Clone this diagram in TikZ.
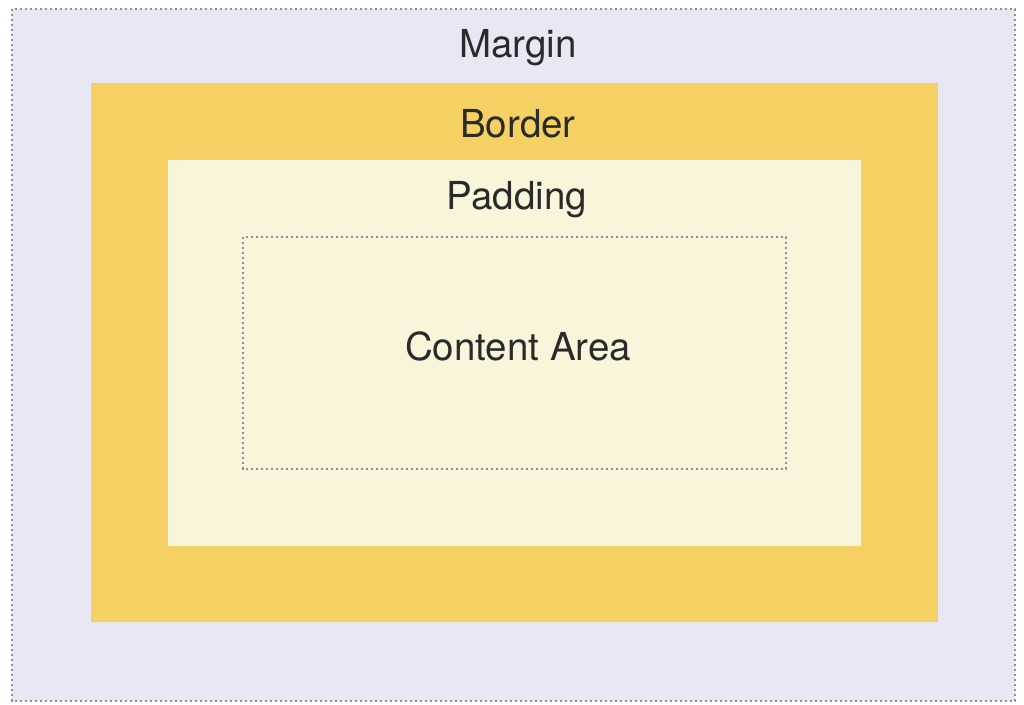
\documentclass[tikz,border=0pt]{standalone}
\usepackage{fontspec}
\setmainfont{TeX Gyre Heros}
\definecolor{marginc}{HTML}{E7E8F3}
\definecolor{borderc}{HTML}{F4D162}
\definecolor{paddingc}{HTML}{F8F5DA}
\definecolor{dotc}{HTML}{8E8E96}
\definecolor{txtc}{HTML}{2A2A2A}
\begin{document}
\begin{tikzpicture}[x=1pt,y=-1pt,
  dotline/.style={draw=dotc,line width=2.3pt,dash pattern=on 2.4pt off 2.6pt},
  lbl/.style={text=txtc,font=\fontsize{38.5}{42}\selectfont,inner sep=0pt,anchor=center}]
\useasboundingbox[fill=white] (0,0) rectangle (1024,704);
\path[fill=marginc,dotline] (12,9) rectangle (1015,701);
\fill[borderc] (91,83) rectangle (938,622);
\fill[paddingc] (168,160) rectangle (861,546);
\path[dotline] (243,237) rectangle (786,469);
\node[lbl] (margin) at (518,48) {Margin};
\node[lbl] (border) at (518,124) {Border};
\node[lbl] (padding) at (517,200) {Padding};
\node[lbl] (content) at (518,346) {Content Area};
\end{tikzpicture}
\end{document}
